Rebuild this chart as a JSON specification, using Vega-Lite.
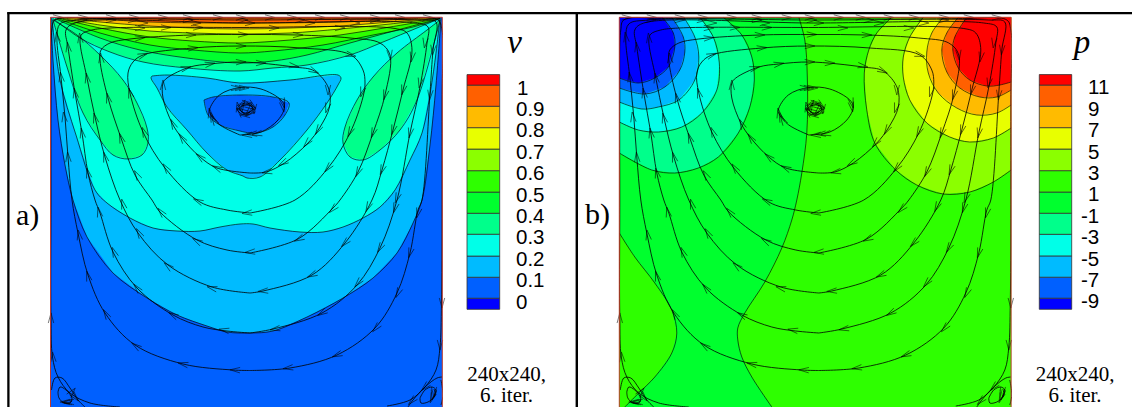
{"$schema":"https://vega.github.io/schema/vega-lite/v6.json","padding":0,"spacing":0,"bounds":"flush","background":"white","config":{"view":{"stroke":null}},
"datasets":{
"bands":[{"lev":0,"v":-0.032,"v2":0.02,"p":-9.64,"p2":-8.6},{"lev":1,"v":0.02,"v2":0.118,"p":-8.6,"p2":-6.64},{"lev":2,"v":0.118,"v2":0.217,"p":-6.64,"p2":-4.65},{"lev":3,"v":0.217,"v2":0.319,"p":-4.65,"p2":-2.63},{"lev":4,"v":0.319,"v2":0.417,"p":-2.63,"p2":-0.66},{"lev":5,"v":0.417,"v2":0.516,"p":-0.66,"p2":1.32},{"lev":6,"v":0.516,"v2":0.616,"p":1.32,"p2":3.32},{"lev":7,"v":0.616,"v2":0.717,"p":3.32,"p2":5.34},{"lev":8,"v":0.717,"v2":0.817,"p":5.34,"p2":7.34},{"lev":9,"v":0.817,"v2":0.917,"p":7.34,"p2":9.34},{"lev":10,"v":0.917,"v2":1.016,"p":9.34,"p2":11.32},{"lev":11,"v":1.016,"v2":1.065,"p":11.32,"p2":12.3}],
"polyA":[
{"r":"a0","b":1,"e":1,"x":50.5,"y":17.3},{"r":"a0","b":1,"e":1,"x":442.3,"y":17.3},{"r":"a0","b":1,"e":1,"x":442.3,"y":407},{"r":"a0","b":1,"e":1,"x":50.5,"y":407},
{"r":"a1","b":2,"x":51,"y":18},{"r":"a1","b":2,"x":53,"y":60},{"r":"a1","b":2,"x":58,"y":120},{"r":"a1","b":2,"x":65,"y":165},{"r":"a1","b":2,"x":73,"y":200},{"r":"a1","b":2,"x":87,"y":237},{"r":"a1","b":2,"x":113,"y":273},{"r":"a1","b":2,"x":147,"y":298},{"r":"a1","b":2,"x":177,"y":315},{"r":"a1","b":2,"x":207,"y":326},{"r":"a1","b":2,"x":227,"y":332},{"r":"a1","b":2,"x":250,"y":333},{"r":"a1","b":2,"x":273,"y":331},{"r":"a1","b":2,"x":307,"y":317},{"r":"a1","b":2,"x":343,"y":298},{"r":"a1","b":2,"x":373,"y":278},{"r":"a1","b":2,"x":397,"y":253},{"r":"a1","b":2,"x":413,"y":223},{"r":"a1","b":2,"x":422,"y":200},{"r":"a1","b":2,"x":430,"y":145},{"r":"a1","b":2,"x":436,"y":85},{"r":"a1","b":2,"x":441,"y":18},
{"r":"a2","b":3,"x":52,"y":18},{"r":"a2","b":3,"x":60,"y":80},{"r":"a2","b":3,"x":76,"y":135},{"r":"a2","b":3,"x":95,"y":190},{"r":"a2","b":3,"x":107,"y":203},{"r":"a2","b":3,"x":130,"y":218},{"r":"a2","b":3,"x":153,"y":228},{"r":"a2","b":3,"x":177,"y":231},{"r":"a2","b":3,"x":200,"y":231},{"r":"a2","b":3,"x":220,"y":227},{"r":"a2","b":3,"x":240,"y":224},{"r":"a2","b":3,"x":253,"y":224},{"r":"a2","b":3,"x":270,"y":228},{"r":"a2","b":3,"x":300,"y":232},{"r":"a2","b":3,"x":323,"y":232},{"r":"a2","b":3,"x":343,"y":227},{"r":"a2","b":3,"x":363,"y":218},{"r":"a2","b":3,"x":380,"y":207},{"r":"a2","b":3,"x":395,"y":190},{"r":"a2","b":3,"x":410,"y":160},{"r":"a2","b":3,"x":422,"y":133},{"r":"a2","b":3,"x":433,"y":75},{"r":"a2","b":3,"x":440,"y":18},
{"r":"t4","b":4,"x":53,"y":18.5},{"r":"t4","b":4,"x":80,"y":38},{"r":"t4","b":4,"x":110,"y":52},{"r":"t4","b":4,"x":143,"y":62},{"r":"t4","b":4,"x":187,"y":68},{"r":"t4","b":4,"x":240,"y":71},{"r":"t4","b":4,"x":273,"y":68},{"r":"t4","b":4,"x":307,"y":65},{"r":"t4","b":4,"x":350,"y":55},{"r":"t4","b":4,"x":383,"y":42},{"r":"t4","b":4,"x":417,"y":28},{"r":"t4","b":4,"x":440,"y":18.5},
{"r":"bl","b":4,"x":53,"y":20},{"r":"bl","b":4,"x":67,"y":67},{"r":"bl","b":4,"x":83,"y":113},{"r":"bl","b":4,"x":100,"y":140},{"r":"bl","b":4,"x":113,"y":155},{"r":"bl","b":4,"x":128,"y":159},{"r":"bl","b":4,"x":142,"y":155},{"r":"bl","b":4,"x":148,"y":143},{"r":"bl","b":4,"x":147,"y":128},{"r":"bl","b":4,"x":137,"y":103},{"r":"bl","b":4,"x":123,"y":80},{"r":"bl","b":4,"x":100,"y":55},{"r":"bl","b":4,"x":77,"y":35},{"r":"bl","b":4,"x":53,"y":20},
{"r":"br","b":4,"x":440,"y":20},{"r":"br","b":4,"x":417,"y":100},{"r":"br","b":4,"x":400,"y":130},{"r":"br","b":4,"x":380,"y":150},{"r":"br","b":4,"x":363,"y":160},{"r":"br","b":4,"x":350,"y":157},{"r":"br","b":4,"x":343,"y":143},{"r":"br","b":4,"x":345,"y":127},{"r":"br","b":4,"x":357,"y":100},{"r":"br","b":4,"x":373,"y":77},{"r":"br","b":4,"x":397,"y":53},{"r":"br","b":4,"x":427,"y":30},{"r":"br","b":4,"x":440,"y":20},
{"r":"t5","b":5,"x":55,"y":18.5},{"r":"t5","b":5,"x":100,"y":38},{"r":"t5","b":5,"x":140,"y":50},{"r":"t5","b":5,"x":187,"y":58},{"r":"t5","b":5,"x":240,"y":63},{"r":"t5","b":5,"x":273,"y":61},{"r":"t5","b":5,"x":307,"y":55},{"r":"t5","b":5,"x":350,"y":43},{"r":"t5","b":5,"x":390,"y":32},{"r":"t5","b":5,"x":440,"y":18.5},
{"r":"t6","b":6,"x":57,"y":18.5},{"r":"t6","b":6,"x":100,"y":33},{"r":"t6","b":6,"x":150,"y":45},{"r":"t6","b":6,"x":193,"y":50},{"r":"t6","b":6,"x":240,"y":53},{"r":"t6","b":6,"x":273,"y":51},{"r":"t6","b":6,"x":323,"y":45},{"r":"t6","b":6,"x":373,"y":35},{"r":"t6","b":6,"x":413,"y":27},{"r":"t6","b":6,"x":440,"y":18.5},
{"r":"t7","b":7,"x":58,"y":18},{"r":"t7","b":7,"x":100,"y":28},{"r":"t7","b":7,"x":150,"y":37},{"r":"t7","b":7,"x":193,"y":41},{"r":"t7","b":7,"x":240,"y":43},{"r":"t7","b":7,"x":290,"y":40},{"r":"t7","b":7,"x":340,"y":35},{"r":"t7","b":7,"x":390,"y":27},{"r":"t7","b":7,"x":440,"y":18.5},
{"r":"t8","b":8,"x":60,"y":18},{"r":"t8","b":8,"x":100,"y":25},{"r":"t8","b":8,"x":150,"y":31},{"r":"t8","b":8,"x":193,"y":33},{"r":"t8","b":8,"x":240,"y":34},{"r":"t8","b":8,"x":290,"y":33},{"r":"t8","b":8,"x":340,"y":29},{"r":"t8","b":8,"x":390,"y":24},{"r":"t8","b":8,"x":440,"y":18},
{"r":"t9","b":9,"x":63,"y":18},{"r":"t9","b":9,"x":100,"y":22},{"r":"t9","b":9,"x":150,"y":26},{"r":"t9","b":9,"x":193,"y":28},{"r":"t9","b":9,"x":240,"y":29},{"r":"t9","b":9,"x":290,"y":28},{"r":"t9","b":9,"x":340,"y":26},{"r":"t9","b":9,"x":390,"y":22},{"r":"t9","b":9,"x":440,"y":18},
{"r":"t10","b":10,"x":67,"y":17.6},{"r":"t10","b":10,"x":100,"y":19},{"r":"t10","b":10,"x":150,"y":22},{"r":"t10","b":10,"x":240,"y":23},{"r":"t10","b":10,"x":340,"y":22},{"r":"t10","b":10,"x":407,"y":19},{"r":"t10","b":10,"x":435,"y":17.6},
{"r":"tri","b":2,"x":152,"y":76},{"r":"tri","b":2,"x":151,"y":78},{"r":"tri","b":2,"x":157,"y":88},{"r":"tri","b":2,"x":167,"y":107},{"r":"tri","b":2,"x":187,"y":130},{"r":"tri","b":2,"x":207,"y":153},{"r":"tri","b":2,"x":227,"y":170},{"r":"tri","b":2,"x":243,"y":176},{"r":"tri","b":2,"x":247,"y":178},{"r":"tri","b":2,"x":260,"y":177},{"r":"tri","b":2,"x":280,"y":160},{"r":"tri","b":2,"x":307,"y":130},{"r":"tri","b":2,"x":327,"y":103},{"r":"tri","b":2,"x":338,"y":85},{"r":"tri","b":2,"x":341,"y":78},{"r":"tri","b":2,"x":338,"y":75},{"r":"tri","b":2,"x":290,"y":80},{"r":"tri","b":2,"x":240,"y":83},{"r":"tri","b":2,"x":207,"y":78},{"r":"tri","b":2,"x":167,"y":75},{"r":"tri","b":2,"x":152,"y":76},
{"r":"ctr","b":1,"x":204,"y":100},{"r":"ctr","b":1,"x":208,"y":115},{"r":"ctr","b":1,"x":220,"y":125},{"r":"ctr","b":1,"x":240,"y":131},{"r":"ctr","b":1,"x":250,"y":133},{"r":"ctr","b":1,"x":257,"y":133},{"r":"ctr","b":1,"x":273,"y":127},{"r":"ctr","b":1,"x":285,"y":115},{"r":"ctr","b":1,"x":289,"y":103},{"r":"ctr","b":1,"x":273,"y":97},{"r":"ctr","b":1,"x":240,"y":95},{"r":"ctr","b":1,"x":213,"y":97},{"r":"ctr","b":1,"x":204,"y":100}
],
"polyB":[
{"r":"g0","b":5,"e":1,"x":50.5,"y":17.3},{"r":"g0","b":5,"e":1,"x":442.3,"y":17.3},{"r":"g0","b":5,"e":1,"x":442.3,"y":407},{"r":"g0","b":5,"e":1,"x":50.5,"y":407},
{"r":"gr","b":6,"x":230,"y":17.3},{"r":"gr","b":6,"x":236,"y":40},{"r":"gr","b":6,"x":238.5,"y":77},{"r":"gr","b":6,"x":238,"y":133},{"r":"gr","b":6,"x":233,"y":173},{"r":"gr","b":6,"x":228,"y":200},{"r":"gr","b":6,"x":223,"y":220},{"r":"gr","b":6,"x":213,"y":248},{"r":"gr","b":6,"x":196,"y":282},{"r":"gr","b":6,"x":176,"y":313},{"r":"gr","b":6,"x":169,"y":328},{"r":"gr","b":6,"x":169,"y":340},{"r":"gr","b":6,"x":173,"y":357},{"r":"gr","b":6,"x":183,"y":377},{"r":"gr","b":6,"x":203,"y":407},{"r":"gr","b":6,"e":1,"x":442.3,"y":407},{"r":"gr","b":6,"e":1,"x":442.3,"y":17.3},
{"r":"gl","b":6,"x":50.5,"y":233},{"r":"gl","b":6,"x":66,"y":257},{"r":"gl","b":6,"x":86,"y":283},{"r":"gl","b":6,"x":103,"y":310},{"r":"gl","b":6,"x":108,"y":333},{"r":"gl","b":6,"x":103,"y":353},{"r":"gl","b":6,"x":86,"y":377},{"r":"gl","b":6,"x":70,"y":393},{"r":"gl","b":6,"x":56,"y":407},{"r":"gl","b":6,"e":1,"x":50.5,"y":407},
{"r":"h7","b":7,"x":323,"y":17.3},{"r":"h7","b":7,"x":308,"y":33},{"r":"h7","b":7,"x":300,"y":50},{"r":"h7","b":7,"x":295.5,"y":73},{"r":"h7","b":7,"x":298,"y":110},{"r":"h7","b":7,"x":306,"y":143},{"r":"h7","b":7,"x":327,"y":170},{"r":"h7","b":7,"x":348,"y":185},{"r":"h7","b":7,"x":374.5,"y":194},{"r":"h7","b":7,"x":401,"y":192},{"r":"h7","b":7,"x":424.5,"y":182},{"r":"h7","b":7,"x":442.3,"y":170},{"r":"h7","b":7,"e":1,"x":442.3,"y":17.3},
{"r":"h8","b":8,"x":354.5,"y":17.3},{"r":"h8","b":8,"x":341,"y":37},{"r":"h8","b":8,"x":334.5,"y":57},{"r":"h8","b":8,"x":334.5,"y":77},{"r":"h8","b":8,"x":341,"y":100},{"r":"h8","b":8,"x":358,"y":123},{"r":"h8","b":8,"x":381,"y":137},{"r":"h8","b":8,"x":401,"y":142},{"r":"h8","b":8,"x":424.5,"y":138},{"r":"h8","b":8,"x":442.3,"y":128},{"r":"h8","b":8,"e":1,"x":442.3,"y":17.3},
{"r":"h9","b":9,"x":374.5,"y":17.3},{"r":"h9","b":9,"x":363,"y":33},{"r":"h9","b":9,"x":358,"y":52},{"r":"h9","b":9,"x":359.5,"y":73},{"r":"h9","b":9,"x":369.5,"y":93},{"r":"h9","b":9,"x":388,"y":108},{"r":"h9","b":9,"x":408,"y":115},{"r":"h9","b":9,"x":428,"y":113},{"r":"h9","b":9,"x":442.3,"y":105},{"r":"h9","b":9,"e":1,"x":442.3,"y":17.3},
{"r":"h10","b":10,"x":389.5,"y":17.3},{"r":"h10","b":10,"x":378,"y":33},{"r":"h10","b":10,"x":373,"y":50},{"r":"h10","b":10,"x":378,"y":72},{"r":"h10","b":10,"x":391,"y":88},{"r":"h10","b":10,"x":411,"y":97},{"r":"h10","b":10,"x":428,"y":97},{"r":"h10","b":10,"x":442.3,"y":90},{"r":"h10","b":10,"e":1,"x":442.3,"y":17.3},
{"r":"h11","b":11,"x":398,"y":17.3},{"r":"h11","b":11,"x":386,"y":37},{"r":"h11","b":11,"x":384,"y":50},{"r":"h11","b":11,"x":389.5,"y":68},{"r":"h11","b":11,"x":401,"y":80},{"r":"h11","b":11,"x":418,"y":86},{"r":"h11","b":11,"x":431,"y":85},{"r":"h11","b":11,"x":442.3,"y":82},{"r":"h11","b":11,"e":1,"x":442.3,"y":17.3},
{"r":"l4","b":4,"x":154.5,"y":17.3},{"r":"l4","b":4,"x":173,"y":35},{"r":"l4","b":4,"x":183,"y":57},{"r":"l4","b":4,"x":185.5,"y":80},{"r":"l4","b":4,"x":181,"y":107},{"r":"l4","b":4,"x":169.5,"y":133},{"r":"l4","b":4,"x":149.5,"y":157},{"r":"l4","b":4,"x":129.5,"y":168},{"r":"l4","b":4,"x":106,"y":173},{"r":"l4","b":4,"x":83,"y":170},{"r":"l4","b":4,"x":50.5,"y":153},{"r":"l4","b":4,"e":1,"x":50.5,"y":17.3},
{"r":"l3","b":3,"x":131,"y":17.3},{"r":"l3","b":3,"x":144.5,"y":37},{"r":"l3","b":3,"x":150.5,"y":63},{"r":"l3","b":3,"x":148,"y":90},{"r":"l3","b":3,"x":133,"y":113},{"r":"l3","b":3,"x":113,"y":127},{"r":"l3","b":3,"x":89.5,"y":132},{"r":"l3","b":3,"x":69.5,"y":130},{"r":"l3","b":3,"x":50.5,"y":122},{"r":"l3","b":3,"e":1,"x":50.5,"y":17.3},
{"r":"l2","b":2,"x":115,"y":17.3},{"r":"l2","b":2,"x":126,"y":37},{"r":"l2","b":2,"x":130,"y":57},{"r":"l2","b":2,"x":126,"y":80},{"r":"l2","b":2,"x":110,"y":100},{"r":"l2","b":2,"x":89.5,"y":107},{"r":"l2","b":2,"x":73,"y":109},{"r":"l2","b":2,"x":50.5,"y":102},{"r":"l2","b":2,"e":1,"x":50.5,"y":17.3},
{"r":"l1","b":1,"x":103,"y":17.3},{"r":"l1","b":1,"x":114.5,"y":37},{"r":"l1","b":1,"x":116,"y":52},{"r":"l1","b":1,"x":111,"y":70},{"r":"l1","b":1,"x":96,"y":87},{"r":"l1","b":1,"x":76,"y":94},{"r":"l1","b":1,"x":50.5,"y":88},{"r":"l1","b":1,"e":1,"x":50.5,"y":17.3},
{"r":"l0","b":0,"x":93.5,"y":17.3},{"r":"l0","b":0,"x":104.5,"y":33},{"r":"l0","b":0,"x":106,"y":47},{"r":"l0","b":0,"x":99.5,"y":67},{"r":"l0","b":0,"x":86,"y":78},{"r":"l0","b":0,"x":69.5,"y":83},{"r":"l0","b":0,"x":50.5,"y":78},{"r":"l0","b":0,"e":1,"x":50.5,"y":17.3}
],
"flow":[
{"s":"L6","x":120,"y":407},{"s":"L6","x":90,"y":403},{"s":"L6","x":70,"y":393},{"s":"L6","x":58,"y":377},{"s":"L6","x":52.5,"y":357},{"s":"L6","x":51,"y":317},{"s":"L6","x":51,"y":200},{"s":"L6","x":51,"y":100},{"s":"L6","x":52,"y":30},{"s":"L6","x":55,"y":20},{"s":"L6","x":100,"y":18.5},{"s":"L6","x":245,"y":18},{"s":"L6","x":390,"y":18.5},{"s":"L6","x":438,"y":20},{"s":"L6","x":442,"y":30},{"s":"L6","x":442,"y":100},{"s":"L6","x":441.5,"y":303},{"s":"L6","x":440,"y":347},{"s":"L6","x":436,"y":370},{"s":"L6","x":425,"y":387},{"s":"L6","x":410,"y":400},{"s":"L6","x":387,"y":406},
{"s":"L5","x":250,"y":370.5},{"s":"L5","x":233,"y":370},{"s":"L5","x":183,"y":364},{"s":"L5","x":135,"y":345},{"s":"L5","x":105,"y":313},{"s":"L5","x":88,"y":275},{"s":"L5","x":78,"y":233},{"s":"L5","x":72,"y":200},{"s":"L5","x":68,"y":157},{"s":"L5","x":65,"y":117},{"s":"L5","x":61,"y":77},{"s":"L5","x":57,"y":37},{"s":"L5","x":60,"y":24},{"s":"L5","x":80,"y":20},{"s":"L5","x":245,"y":20},{"s":"L5","x":420,"y":20},{"s":"L5","x":436,"y":22},{"s":"L5","x":433,"y":50},{"s":"L5","x":430,"y":93},{"s":"L5","x":422,"y":200},{"s":"L5","x":418,"y":210},{"s":"L5","x":410,"y":253},{"s":"L5","x":397,"y":293},{"s":"L5","x":375,"y":328},{"s":"L5","x":337,"y":355},{"s":"L5","x":290,"y":368},{"s":"L5","x":250,"y":370.5},
{"s":"L4","x":250,"y":333},{"s":"L4","x":227,"y":331},{"s":"L4","x":203,"y":327},{"s":"L4","x":173,"y":315},{"s":"L4","x":137,"y":288},{"s":"L4","x":113,"y":252},{"s":"L4","x":100,"y":213},{"s":"L4","x":95,"y":200},{"s":"L4","x":88,"y":173},{"s":"L4","x":82,"y":133},{"s":"L4","x":75,"y":93},{"s":"L4","x":68,"y":47},{"s":"L4","x":66,"y":30},{"s":"L4","x":75,"y":23},{"s":"L4","x":245,"y":23},{"s":"L4","x":415,"y":23},{"s":"L4","x":428,"y":27},{"s":"L4","x":427,"y":43},{"s":"L4","x":420,"y":87},{"s":"L4","x":410,"y":133},{"s":"L4","x":397,"y":200},{"s":"L4","x":380,"y":248},{"s":"L4","x":357,"y":285},{"s":"L4","x":322,"y":313},{"s":"L4","x":273,"y":329},{"s":"L4","x":250,"y":333},
{"s":"L3","x":250,"y":293},{"s":"L3","x":212,"y":287},{"s":"L3","x":168,"y":265},{"s":"L3","x":138,"y":233},{"s":"L3","x":120,"y":200},{"s":"L3","x":105,"y":157},{"s":"L3","x":95,"y":117},{"s":"L3","x":87,"y":78},{"s":"L3","x":80,"y":40},{"s":"L3","x":82,"y":34},{"s":"L3","x":92,"y":30},{"s":"L3","x":110,"y":28},{"s":"L3","x":240,"y":27.5},{"s":"L3","x":395,"y":28.5},{"s":"L3","x":407,"y":33},{"s":"L3","x":412,"y":50},{"s":"L3","x":403,"y":90},{"s":"L3","x":393,"y":130},{"s":"L3","x":382,"y":170},{"s":"L3","x":372,"y":200},{"s":"L3","x":345,"y":243},{"s":"L3","x":312,"y":275},{"s":"L3","x":263,"y":291},{"s":"L3","x":250,"y":293},
{"s":"L2","x":250,"y":253},{"s":"L2","x":227,"y":250},{"s":"L2","x":197,"y":240},{"s":"L2","x":160,"y":212},{"s":"L2","x":152,"y":200},{"s":"L2","x":135,"y":175},{"s":"L2","x":121,"y":138},{"s":"L2","x":108,"y":98},{"s":"L2","x":100,"y":60},{"s":"L2","x":101,"y":50},{"s":"L2","x":110,"y":43},{"s":"L2","x":130,"y":39},{"s":"L2","x":191,"y":35},{"s":"L2","x":245,"y":34.5},{"s":"L2","x":298,"y":35},{"s":"L2","x":350,"y":38},{"s":"L2","x":380,"y":43},{"s":"L2","x":390,"y":55},{"s":"L2","x":385,"y":95},{"s":"L2","x":373,"y":133},{"s":"L2","x":358,"y":172},{"s":"L2","x":340,"y":200},{"s":"L2","x":333,"y":208},{"s":"L2","x":298,"y":239},{"s":"L2","x":250,"y":253},
{"s":"L1","x":250,"y":213},{"s":"L1","x":227,"y":210},{"s":"L1","x":200,"y":202},{"s":"L1","x":165,"y":168},{"s":"L1","x":143,"y":132},{"s":"L1","x":130,"y":93},{"s":"L1","x":128,"y":73},{"s":"L1","x":133,"y":62},{"s":"L1","x":143,"y":55},{"s":"L1","x":193,"y":48},{"s":"L1","x":241,"y":46},{"s":"L1","x":301,"y":48},{"s":"L1","x":351,"y":55},{"s":"L1","x":363,"y":70},{"s":"L1","x":365,"y":83},{"s":"L1","x":363,"y":97},{"s":"L1","x":350,"y":133},{"s":"L1","x":328,"y":168},{"s":"L1","x":295,"y":200},{"s":"L1","x":250,"y":213},
{"s":"L0","x":250,"y":173},{"s":"L0","x":217,"y":168},{"s":"L0","x":200,"y":157},{"s":"L0","x":182,"y":138},{"s":"L0","x":172,"y":123},{"s":"L0","x":163,"y":98},{"s":"L0","x":163,"y":83},{"s":"L0","x":167,"y":78},{"s":"L0","x":190,"y":67},{"s":"L0","x":210,"y":64},{"s":"L0","x":241,"y":62},{"s":"L0","x":294,"y":67},{"s":"L0","x":314.5,"y":71},{"s":"L0","x":328.5,"y":88},{"s":"L0","x":329.5,"y":107},{"s":"L0","x":319.5,"y":128},{"s":"L0","x":308,"y":143},{"s":"L0","x":284.5,"y":163},{"s":"L0","x":266,"y":172},{"s":"L0","x":250,"y":173},
{"s":"E1","x":240,"y":135},{"s":"E1","x":220,"y":125},{"s":"E1","x":211,"y":115},{"s":"E1","x":209.5,"y":110},{"s":"E1","x":219.5,"y":95},{"s":"E1","x":240,"y":87.5},{"s":"E1","x":261,"y":89},{"s":"E1","x":281,"y":100},{"s":"E1","x":284.5,"y":107},{"s":"E1","x":278,"y":120},{"s":"E1","x":261,"y":132},{"s":"E1","x":240,"y":135},
{"s":"E2","x":237,"y":109},{"s":"E2","x":240,"y":105},{"s":"E2","x":246,"y":103},{"s":"E2","x":252,"y":105},{"s":"E2","x":255,"y":108.5},{"s":"E2","x":252,"y":112.5},{"s":"E2","x":246,"y":115},{"s":"E2","x":240,"y":113},{"s":"E2","x":237,"y":109},
{"s":"E3","x":239,"y":109},{"s":"E3","x":242,"y":106},{"s":"E3","x":247,"y":105},{"s":"E3","x":251,"y":106},{"s":"E3","x":253,"y":109},{"s":"E3","x":250,"y":112},{"s":"E3","x":246,"y":113},{"s":"E3","x":242,"y":112},{"s":"E3","x":239,"y":109},
{"s":"BL1","x":51.5,"y":390},{"s":"BL1","x":55,"y":378},{"s":"BL1","x":62,"y":378},{"s":"BL1","x":70,"y":388},{"s":"BL1","x":78,"y":400},{"s":"BL1","x":85,"y":407},
{"s":"BL2","x":58,"y":392},{"s":"BL2","x":60,"y":387},{"s":"BL2","x":66,"y":390},{"s":"BL2","x":72,"y":398},{"s":"BL2","x":70,"y":403},{"s":"BL2","x":64,"y":403},{"s":"BL2","x":59,"y":398},{"s":"BL2","x":58,"y":392},
{"s":"BL3","x":62,"y":402},{"s":"BL3","x":67,"y":403},{"s":"BL3","x":72,"y":401},
{"s":"BR1","x":442,"y":377},{"s":"BR1","x":437,"y":378},{"s":"BR1","x":425,"y":387},{"s":"BR1","x":413,"y":400},{"s":"BR1","x":408,"y":407},
{"s":"BR2","x":420,"y":398},{"s":"BR2","x":425,"y":390},{"s":"BR2","x":432,"y":387},{"s":"BR2","x":436,"y":390},{"s":"BR2","x":434,"y":397},{"s":"BR2","x":428,"y":402},{"s":"BR2","x":421,"y":403},{"s":"BR2","x":420,"y":398},
{"s":"BR3","x":434,"y":389},{"s":"BR3","x":435,"y":394},{"s":"BR3","x":431,"y":400},
{"s":"BR4","x":441,"y":380},{"s":"BR4","x":443,"y":395},{"s":"BR4","x":441,"y":405}
],
"arrows":[
{"x":79,"y":235,"a":-10},{"x":88,"y":276,"a":-15},{"x":106,"y":314,"a":-30},{"x":136,"y":346,"a":-55},{"x":183,"y":364,"a":-78},{"x":235,"y":370,"a":-88},{"x":99,"y":212,"a":-12},{"x":114,"y":252,"a":-22},{"x":137,"y":288,"a":-40},{"x":173,"y":315,"a":-62},{"x":224,"y":330,"a":-80},{"x":123,"y":204,"a":-15},{"x":139,"y":233,"a":-30},{"x":168,"y":266,"a":-50},{"x":212,"y":288,"a":-75},{"x":161,"y":212,"a":-40},{"x":197,"y":241,"a":-60},{"x":198,"y":201,"a":-65},
{"x":68,"y":157,"a":-5},{"x":64,"y":117,"a":-7},{"x":61,"y":77,"a":-8},{"x":57,"y":37,"a":-8},{"x":68,"y":47,"a":-8},{"x":75,"y":93,"a":-10},{"x":82,"y":133,"a":-10},{"x":88,"y":173,"a":-13},{"x":80,"y":38,"a":-5},{"x":87,"y":78,"a":-10},{"x":95,"y":118,"a":-13},{"x":105,"y":157,"a":-15},{"x":101,"y":58,"a":-5},{"x":108,"y":98,"a":-13},{"x":121,"y":138,"a":-18},{"x":137,"y":175,"a":-30},{"x":130,"y":93,"a":-15},{"x":144,"y":132,"a":-22},{"x":166,"y":168,"a":-35},{"x":163,"y":85,"a":0},{"x":173,"y":124,"a":-25},{"x":182,"y":138,"a":-35},{"x":200,"y":157,"a":-50},{"x":217,"y":168,"a":-65},
{"x":58,"y":17.5,"a":90},{"x":83,"y":17.5,"a":90},{"x":111,"y":17.5,"a":90},{"x":134,"y":17.5,"a":90},{"x":163,"y":17.5,"a":90},{"x":188,"y":17.5,"a":90},{"x":218,"y":17.5,"a":90},{"x":241,"y":17.5,"a":90},{"x":270,"y":17.5,"a":90},{"x":292,"y":17.5,"a":90},{"x":320,"y":17.5,"a":90},{"x":345,"y":17.5,"a":90},{"x":375,"y":17.5,"a":90},{"x":400,"y":17.5,"a":90},{"x":428,"y":17.5,"a":90},
{"x":82,"y":20,"a":90},{"x":111,"y":20,"a":90},{"x":133,"y":20,"a":90},{"x":143,"y":23,"a":90},{"x":188,"y":20,"a":90},{"x":196,"y":23,"a":90},{"x":243,"y":20,"a":90},{"x":250,"y":23,"a":90},{"x":300,"y":20,"a":90},{"x":310,"y":23,"a":90},{"x":355,"y":23,"a":90},{"x":375,"y":20,"a":90},
{"x":140,"y":28,"a":90},{"x":166,"y":27.5,"a":90},{"x":198,"y":27.5,"a":90},{"x":274,"y":28,"a":90},{"x":340,"y":28,"a":90},{"x":191,"y":35,"a":90},{"x":243,"y":34.5,"a":90},{"x":298,"y":35,"a":90},{"x":140,"y":38,"a":85},{"x":143,"y":55,"a":70},{"x":193,"y":48,"a":85},{"x":241,"y":46,"a":90},{"x":351,"y":55,"a":105},{"x":186,"y":68,"a":75},{"x":210,"y":64,"a":80},{"x":241,"y":62,"a":88},{"x":261,"y":63,"a":90},{"x":294,"y":66,"a":100},{"x":314,"y":71,"a":115},
{"x":433,"y":50,"a":185},{"x":430,"y":95,"a":185},{"x":425,"y":43,"a":187},{"x":420,"y":83,"a":190},{"x":412,"y":57,"a":190},{"x":403,"y":90,"a":195},{"x":393,"y":130,"a":197},{"x":382,"y":170,"a":200},{"x":410,"y":133,"a":192},{"x":397,"y":198,"a":200},{"x":390,"y":55,"a":175},{"x":385,"y":95,"a":195},{"x":373,"y":133,"a":200},{"x":358,"y":172,"a":205},{"x":362,"y":92,"a":195},{"x":350,"y":132,"a":205},{"x":328,"y":168,"a":220},{"x":328,"y":90,"a":180},{"x":327,"y":108,"a":195},{"x":318,"y":130,"a":210},{"x":307,"y":143,"a":220},{"x":283,"y":163,"a":240},{"x":267,"y":172,"a":260},
{"x":418,"y":213,"a":195},{"x":410,"y":253,"a":197},{"x":398,"y":293,"a":205},{"x":376,"y":328,"a":222},{"x":337,"y":355,"a":248},{"x":288,"y":368,"a":262},{"x":395,"y":208,"a":197},{"x":380,"y":248,"a":210},{"x":358,"y":283,"a":220},{"x":322,"y":313,"a":240},{"x":275,"y":329,"a":260},{"x":368,"y":207,"a":205},{"x":345,"y":243,"a":225},{"x":312,"y":275,"a":245},{"x":263,"y":291,"a":265},{"x":333,"y":209,"a":225},{"x":299,"y":239,"a":245},{"x":250,"y":252,"a":265},{"x":247,"y":213,"a":265},
{"x":442,"y":303,"a":180},{"x":440,"y":345,"a":180},{"x":51,"y":318,"a":0},{"x":53,"y":357,"a":-5},
{"x":236,"y":88,"a":90},{"x":240,"y":88,"a":90},{"x":244,"y":88,"a":90},{"x":257,"y":134,"a":260},{"x":252,"y":134,"a":265},{"x":247,"y":135,"a":268},{"x":210,"y":113,"a":-10},{"x":212,"y":117,"a":-20},{"x":214,"y":120,"a":-30},{"x":283,"y":107,"a":170},{"x":283,"y":103,"a":165},
{"x":238,"y":107,"a":-10},{"x":242,"y":104,"a":40},{"x":247,"y":103,"a":90},{"x":252,"y":105,"a":130},{"x":254,"y":109,"a":180},{"x":250,"y":113,"a":230},{"x":245,"y":115,"a":270},{"x":240,"y":112,"a":320},{"x":242,"y":107,"a":30},{"x":250,"y":107,"a":120},{"x":249,"y":111,"a":220},{"x":243,"y":111,"a":300},
{"x":72,"y":392,"a":40},{"x":75,"y":397,"a":140},{"x":65,"y":402,"a":270},{"x":67,"y":402,"a":270},{"x":69,"y":402,"a":270},{"x":425,"y":387,"a":225},{"x":412,"y":401,"a":225},{"x":432,"y":398,"a":200},{"x":433,"y":395,"a":190},{"x":434,"y":392,"a":180}
]
},
"hconcat":[
{"width":443,"height":407,"encoding":{"x":{"field":"x","type":"quantitative","scale":{"domain":[0,443],"nice":false,"zero":false},"axis":null},"y":{"field":"y","type":"quantitative","scale":{"domain":[407,0],"nice":false,"zero":false},"axis":null}},
"layer":[
{"data":{"name":"polyA"},"mark":{"type":"line","interpolate":"linear-closed","order":false,"strokeWidth":0,"clip":true},"encoding":{"detail":{"field":"r"},"fill":{"field":"b","type":"ordinal","scale":{"domain":[0,1,2,3,4,5,6,7,8,9,10,11],"range":["#0000ff","#0060ff","#00bbff","#00ffe8","#00ff8b","#00ff2e","#2eff00","#8bff00","#e8ff00","#ffbb00","#ff6000","#ff0000"]},"legend":null}}},
{"data":{"name":"polyA"},"transform":[{"filter":"!datum.e"}],"mark":{"type":"line","interpolate":"catmull-rom","order":false,"stroke":"#000","strokeWidth":0.8,"opacity":0.8,"clip":true},"encoding":{"detail":{"field":"r"}}},
{"data":{"name":"flow"},"mark":{"type":"line","interpolate":"catmull-rom","order":false,"stroke":"#000","strokeWidth":0.8,"clip":true},"encoding":{"detail":{"field":"s"}}},
{"data":{"name":"arrows"},"mark":{"type":"point","shape":"M-0.7,1.3L0,-1.3L0.7,1.3","filled":false,"stroke":"#000","strokeWidth":0.7,"opacity":0.75,"size":60},"encoding":{"angle":{"field":"a","type":"quantitative","scale":null}}},
{"data":{"values":[{"x":50.5,"x2":50.5,"y":17.3,"y2":407},{"x":442.3,"x2":442.3,"y":17.3,"y2":407},{"x":50.5,"x2":442.3,"y":17.3,"y2":17.3}]},"mark":{"type":"rule","stroke":"#c0392b","strokeWidth":1},"encoding":{"x2":{"field":"x2"},"y2":{"field":"y2"}}},
{"data":{"values":[{"x":8.4,"x2":8.4,"y":12.2,"y2":407},{"x":7.3,"x2":443,"y":13.2,"y2":13.2}]},"mark":{"type":"rule","stroke":"#000","strokeWidth":2.3},"encoding":{"x2":{"field":"x2"},"y2":{"field":"y2"}}},
{"data":{"values":[{"x":16,"y":225,"t":"a)"}]},"mark":{"type":"text","font":"Liberation Serif","fontSize":30,"align":"left","baseline":"alphabetic","color":"#000"},"encoding":{"text":{"field":"t"}}}
]},
{"width":134,"height":407,
"layer":[
{"data":{"name":"bands"},"mark":{"type":"rect","stroke":"#333","strokeWidth":0.8},"encoding":{"x":{"datum":467,"type":"quantitative","scale":{"domain":[443,577],"nice":false,"zero":false},"axis":null},"x2":{"datum":499.7},"y2":{"field":"v2"},"fill":{"field":"lev","type":"ordinal","scale":{"domain":[0,1,2,3,4,5,6,7,8,9,10,11],"range":["#0000ff","#0060ff","#00bbff","#00ffe8","#00ff8b","#00ff2e","#2eff00","#8bff00","#e8ff00","#ffbb00","#ff6000","#ff0000"]},"legend":null},"y":{"field":"v","type":"quantitative","scale":{"domain":[-0.4883,1.4136],"nice":false,"zero":false},"axis":null}}},
{"data":{"values":[{"x":516,"v":0,"t":"0"},{"x":516,"v":0.1,"t":"0.1"},{"x":516,"v":0.2,"t":"0.2"},{"x":516,"v":0.3,"t":"0.3"},{"x":516,"v":0.4,"t":"0.4"},{"x":516,"v":0.5,"t":"0.5"},{"x":516,"v":0.6,"t":"0.6"},{"x":516,"v":0.7,"t":"0.7"},{"x":516,"v":0.8,"t":"0.8"},{"x":516,"v":0.9,"t":"0.9"},{"x":517,"v":1,"t":"1"}]},"mark":{"type":"text","font":"Liberation Sans","fontSize":20.5,"align":"left","baseline":"middle","color":"#000"},"encoding":{"x":{"field":"x","type":"quantitative","axis":null},"y":{"field":"v","type":"quantitative","axis":null},"text":{"field":"t"}}},
{"data":{"values":[{"x":514.7,"v":1.166,"t":"v"}]},"mark":{"type":"text","font":"Liberation Serif","fontStyle":"italic","fontSize":33,"align":"center","baseline":"alphabetic","color":"#000"},"encoding":{"x":{"field":"x","type":"quantitative","axis":null},"y":{"field":"v","type":"quantitative","axis":null},"text":{"field":"t"}}},
{"data":{"values":[{"x":506.5,"v":-0.367,"t":"240x240,"},{"x":506.5,"v":-0.4636,"t":"6. iter."}]},"mark":{"type":"text","font":"Liberation Serif","fontSize":21,"align":"center","baseline":"alphabetic","color":"#000"},"encoding":{"x":{"field":"x","type":"quantitative","axis":null},"y":{"field":"v","type":"quantitative","axis":null},"text":{"field":"t"}}},
{"data":{"values":[{"x":443,"x2":577,"v":1.3519}]},"mark":{"type":"rule","stroke":"#000","strokeWidth":2.3},"encoding":{"x":{"field":"x","type":"quantitative","axis":null},"x2":{"field":"x2"},"y":{"field":"v","type":"quantitative","axis":null}}},
{"data":{"values":[{"x":576.8,"v":1.3519,"v2":-0.4883}]},"mark":{"type":"rule","stroke":"#000","strokeWidth":2.4},"encoding":{"x":{"field":"x","type":"quantitative","axis":null},"y":{"field":"v","type":"quantitative","axis":null},"y2":{"field":"v2"}}}
]},
{"width":435,"height":407,"encoding":{"x":{"field":"x","type":"quantitative","scale":{"domain":[8.2,443.2],"nice":false,"zero":false},"axis":null},"y":{"field":"y","type":"quantitative","scale":{"domain":[407,0],"nice":false,"zero":false},"axis":null}},
"layer":[
{"data":{"name":"polyB"},"mark":{"type":"line","interpolate":"linear-closed","order":false,"strokeWidth":0,"clip":true},"encoding":{"detail":{"field":"r"},"fill":{"field":"b","type":"ordinal","scale":{"domain":[0,1,2,3,4,5,6,7,8,9,10,11],"range":["#0000ff","#0060ff","#00bbff","#00ffe8","#00ff8b","#00ff2e","#2eff00","#8bff00","#e8ff00","#ffbb00","#ff6000","#ff0000"]},"legend":null}}},
{"data":{"name":"polyB"},"transform":[{"filter":"!datum.e"}],"mark":{"type":"line","interpolate":"catmull-rom","order":false,"stroke":"#000","strokeWidth":0.8,"opacity":0.8,"clip":true},"encoding":{"detail":{"field":"r"}}},
{"data":{"name":"flow"},"mark":{"type":"line","interpolate":"catmull-rom","order":false,"stroke":"#000","strokeWidth":0.8,"clip":true},"encoding":{"detail":{"field":"s"}}},
{"data":{"name":"arrows"},"mark":{"type":"point","shape":"M-0.7,1.3L0,-1.3L0.7,1.3","filled":false,"stroke":"#000","strokeWidth":0.7,"opacity":0.75,"size":60},"encoding":{"angle":{"field":"a","type":"quantitative","scale":null}}},
{"data":{"values":[{"x":50.5,"x2":50.5,"y":17.3,"y2":407},{"x":442.3,"x2":442.3,"y":17.3,"y2":407},{"x":50.5,"x2":442.3,"y":17.3,"y2":17.3}]},"mark":{"type":"rule","stroke":"#c0392b","strokeWidth":1},"encoding":{"x2":{"field":"x2"},"y2":{"field":"y2"}}},
{"data":{"values":[{"x":8.2,"x2":443.2,"y":13.2,"y2":13.2}]},"mark":{"type":"rule","stroke":"#000","strokeWidth":2.3},"encoding":{"x2":{"field":"x2"},"y2":{"field":"y2"}}},
{"data":{"values":[{"x":16.2,"y":224,"t":"b)"}]},"mark":{"type":"text","font":"Liberation Serif","fontSize":30,"align":"left","baseline":"alphabetic","color":"#000"},"encoding":{"text":{"field":"t"}}}
]},
{"width":120,"height":407,
"layer":[
{"data":{"name":"bands"},"mark":{"type":"rect","stroke":"#333","strokeWidth":0.8},"encoding":{"x":{"datum":1039.3,"type":"quantitative","scale":{"domain":[1012,1132],"nice":false,"zero":false},"axis":null},"x2":{"datum":1071.7},"y2":{"field":"p2"},"fill":{"field":"lev","type":"ordinal","scale":{"domain":[0,1,2,3,4,5,6,7,8,9,10,11],"range":["#0000ff","#0060ff","#00bbff","#00ffe8","#00ff8b","#00ff2e","#2eff00","#8bff00","#e8ff00","#ffbb00","#ff6000","#ff0000"]},"legend":null},"y":{"field":"p","type":"quantitative","scale":{"domain":[-18.77,19.27],"nice":false,"zero":false},"axis":null}}},
{"data":{"values":[{"x":1081,"p":-9,"t":"-9"},{"x":1081,"p":-7,"t":"-7"},{"x":1081,"p":-5,"t":"-5"},{"x":1081,"p":-3,"t":"-3"},{"x":1081,"p":-1,"t":"-1"},{"x":1088,"p":1,"t":"1"},{"x":1088,"p":3,"t":"3"},{"x":1088,"p":5,"t":"5"},{"x":1088,"p":7,"t":"7"},{"x":1088,"p":9,"t":"9"},{"x":1088,"p":11,"t":"11"}]},"mark":{"type":"text","font":"Liberation Sans","fontSize":20.5,"align":"left","baseline":"middle","color":"#000"},"encoding":{"x":{"field":"x","type":"quantitative","axis":null},"y":{"field":"p","type":"quantitative","axis":null},"text":{"field":"t"}}},
{"data":{"values":[{"x":1082,"p":14.32,"t":"p"}]},"mark":{"type":"text","font":"Liberation Serif","fontStyle":"italic","fontSize":33,"align":"center","baseline":"alphabetic","color":"#000"},"encoding":{"x":{"field":"x","type":"quantitative","axis":null},"y":{"field":"p","type":"quantitative","axis":null},"text":{"field":"t"}}},
{"data":{"values":[{"x":1075,"p":-16.34,"t":"240x240,"},{"x":1075,"p":-18.27,"t":"6. iter."}]},"mark":{"type":"text","font":"Liberation Serif","fontSize":21,"align":"center","baseline":"alphabetic","color":"#000"},"encoding":{"x":{"field":"x","type":"quantitative","axis":null},"y":{"field":"p","type":"quantitative","axis":null},"text":{"field":"t"}}},
{"data":{"values":[{"x":1012,"x2":1132,"p":18.04}]},"mark":{"type":"rule","stroke":"#000","strokeWidth":2.3},"encoding":{"x":{"field":"x","type":"quantitative","axis":null},"x2":{"field":"x2"},"y":{"field":"p","type":"quantitative","axis":null}}}
]}
]}
